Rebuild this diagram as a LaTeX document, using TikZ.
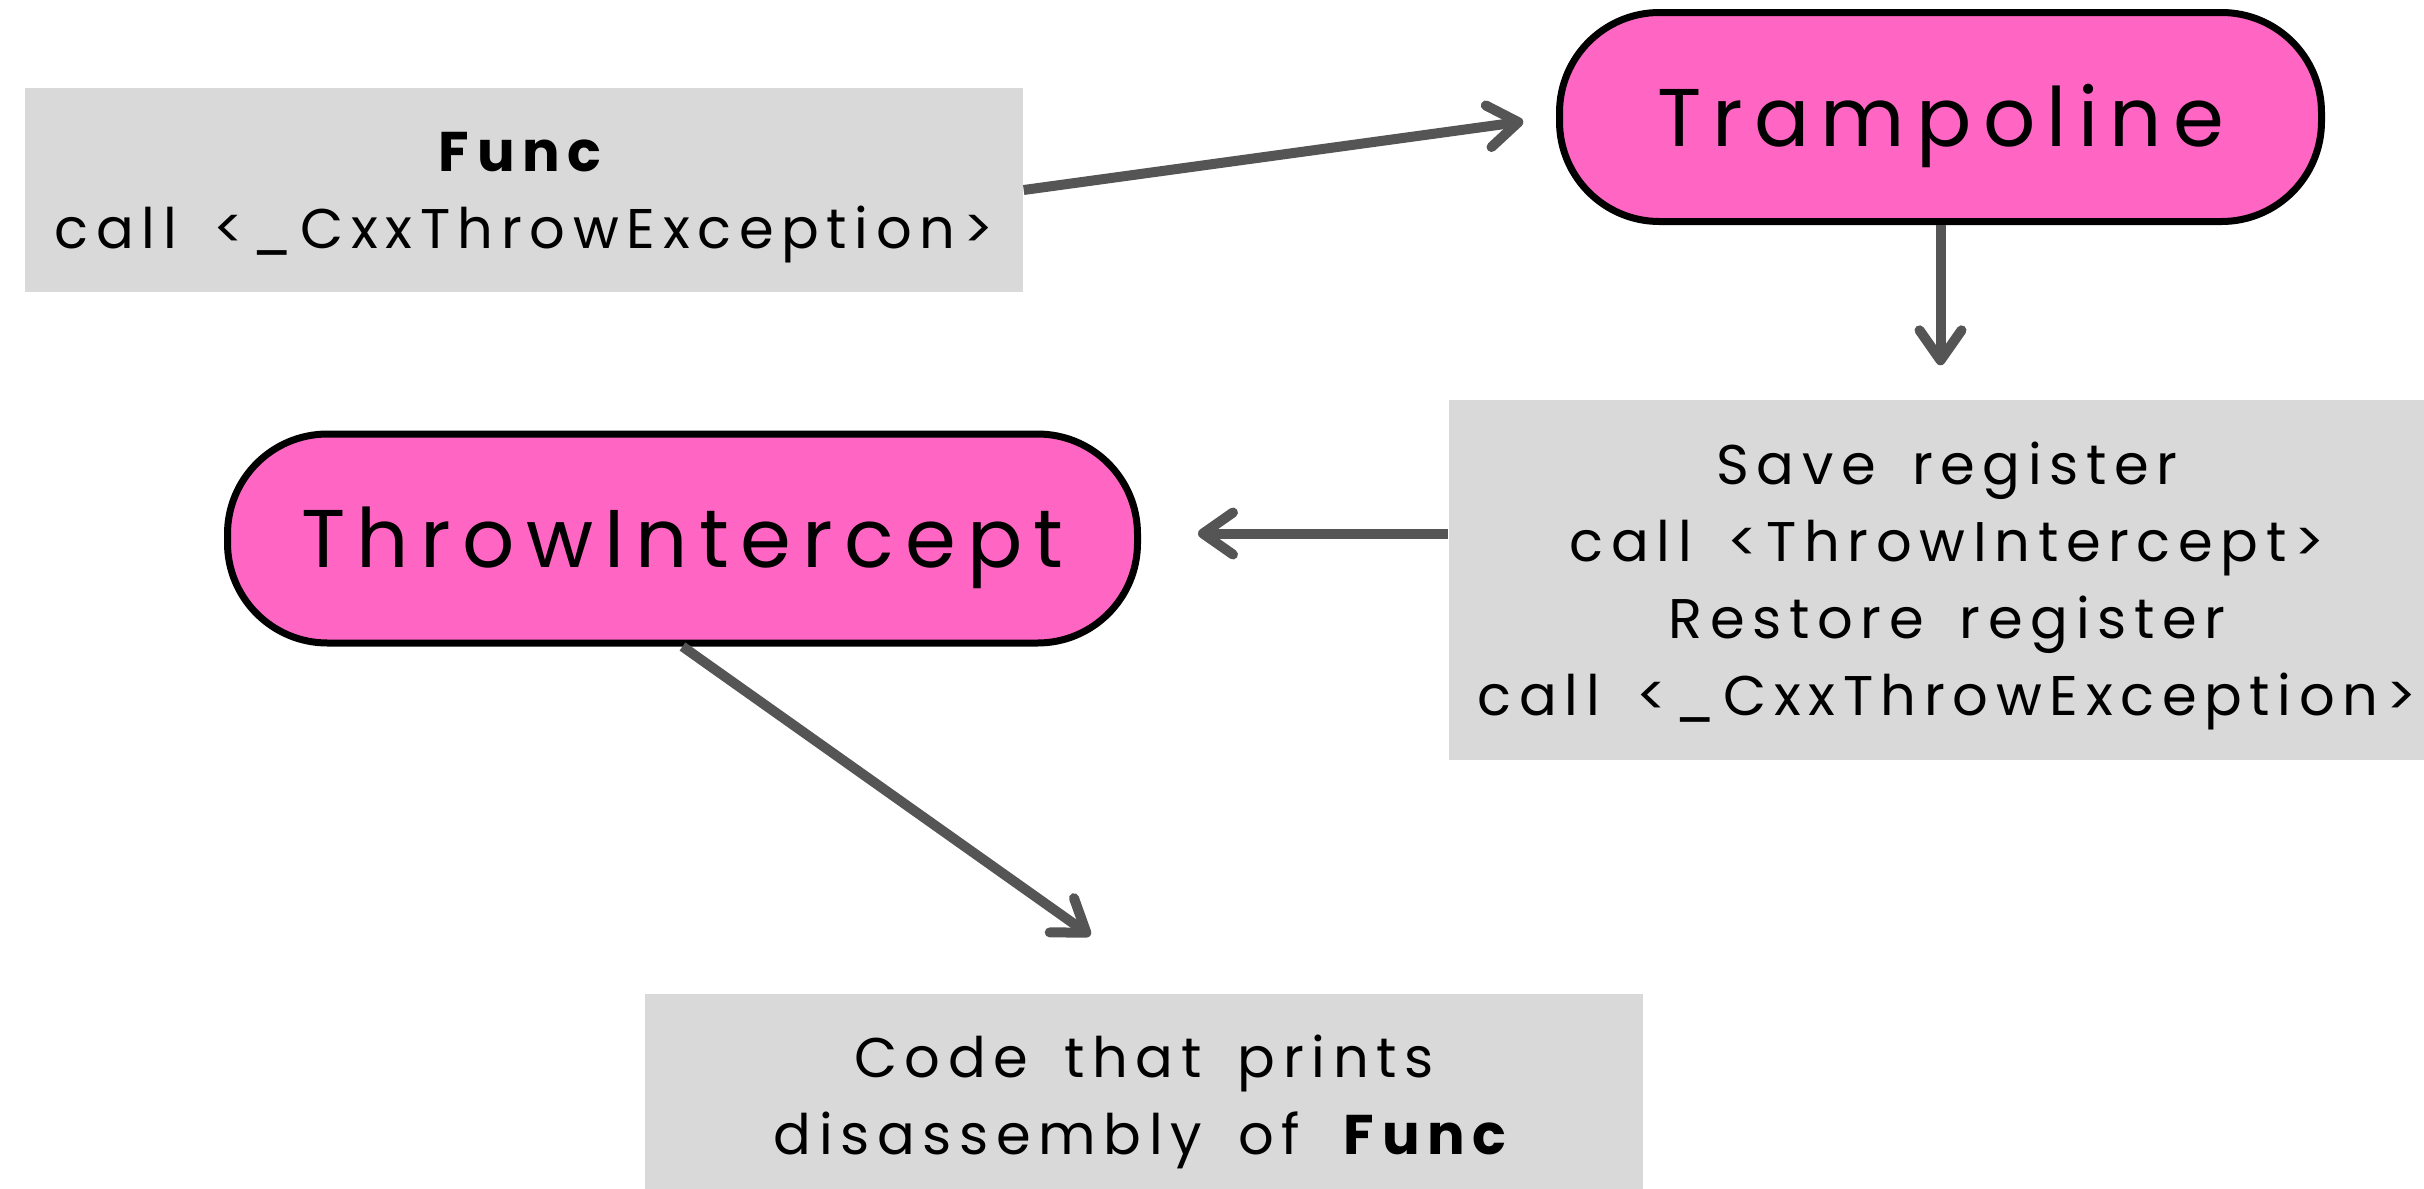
\documentclass[tikz,border=0pt]{standalone}
\usepackage{fontspec}
\setmainfont[LetterSpace=13.7,WordSpace=1.6]{Poppins}
\usepackage{tikz}
\usetikzlibrary{arrows.meta,positioning,calc}
\definecolor{pink2}{HTML}{FF66C4}
\definecolor{grey2}{HTML}{D9D9D9}
\definecolor{arrgrey}{HTML}{555555}
% fixed line box, so that text sits on the same baselines in every box
\newcommand{\lnstrut}{\rule[-0.28em]{0pt}{1.28em}}

\begin{document}
\begin{tikzpicture}[
        codebox/.style={fill=grey2,minimum width=9.98cm,minimum height=2.04cm,
                        align=center,inner sep=0pt,font=\fontsize{15.9}{21.9}\selectfont},
        pillbox/.style={draw,line width=0.07cm,fill=pink2,rounded corners=1cm,
                        minimum height=2.09cm,inner sep=0pt,font=\fontsize{23.3}{28}\selectfont},
        arr/.style={-{Straight Barb[length=3mm,width=4.2mm,round]}, line width=0.1cm, arrgrey}
    ]
      \clip (0,0) rectangle (24.24,-11.89);
      \node[codebox] (func) at (5.24,-1.90)
        {\lnstrut\textbf{Func}\\call <\_CxxThrowException>\lnstrut};
      \node[pillbox, minimum width=7.62cm] (tramp) at (19.405,-1.17) {\lnstrut Trampoline};
      \node[codebox, minimum height=3.60cm, minimum width=9.96cm] (save) at (19.47,-5.80)
        {\lnstrut Save register\\call <ThrowIntercept>\\Restore register\\call <\_CxxThrowException>\lnstrut};
      \node[pillbox, minimum width=9.10cm] (thrint) at (6.825,-5.385) {\lnstrut ThrowIntercept};
      \node[codebox, minimum height=2.03cm] (code) at (11.44,-10.955)
        {\lnstrut Code that prints\\disassembly of \textbf{Func}\lnstrut};
      \draw[arr, shorten >=0.33cm] (func.east) -- (tramp.west);
      \draw[arr, shorten >=0.34cm] (tramp.south) -- (tramp.south |- save.north);
      \draw[arr, shorten >=0.57cm] ([yshift=0.05cm]save.west |- thrint.east) -- ([yshift=0.05cm]thrint.east);
      \draw[arr, shorten >=1.0cm] (thrint.south) -- ([xshift=0.28cm]code.north);
    \end{tikzpicture}
\end{document}
